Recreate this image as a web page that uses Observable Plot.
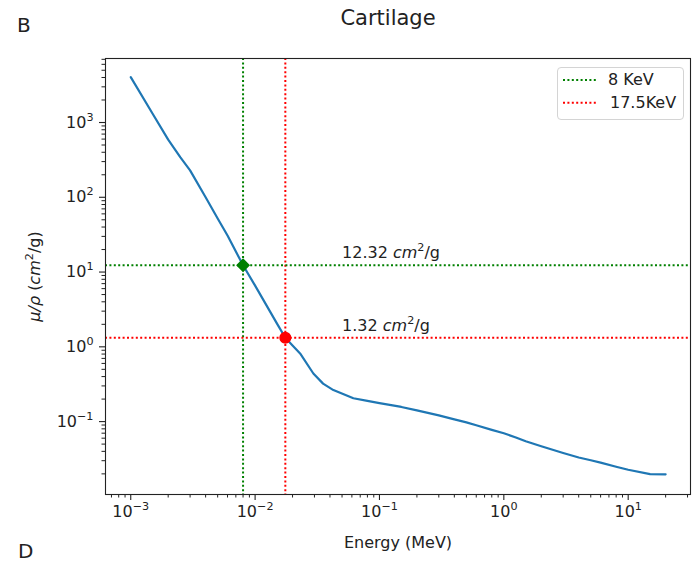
<!DOCTYPE html>
<html><head><meta charset="utf-8">
<script src="https://cdn.jsdelivr.net/npm/d3@7"></script>
<script src="https://cdn.jsdelivr.net/npm/@observablehq/plot@0.6"></script>
<style>
body{margin:0;background:#fff;}
#wrap{position:relative;width:692px;height:562px;overflow:hidden;font-family:"DejaVu Sans",sans-serif;color:#222;}
.abs{position:absolute;white-space:nowrap;line-height:20px;}
#legend{position:absolute;left:557px;top:67px;width:125px;height:51px;border:1px solid #d4d4d4;border-radius:4px;background:rgba(255,255,255,0.85);}
#legend .lab{position:absolute;font-size:16px;line-height:16px;white-space:nowrap;}
</style></head><body><div id="wrap"></div>
<script>
// ---- data ----
const energy = [0.001, 0.0015, 0.002, 0.0025, 0.003, 0.004, 0.005, 0.006, 0.008, 0.01, 0.015, 0.0175, 0.02, 0.023, 0.0294, 0.0352, 0.0426, 0.0617, 0.08, 0.1, 0.15, 0.2, 0.3, 0.4, 0.5, 0.6, 0.8, 1, 1.25, 1.5, 2, 3, 4, 5, 6, 8, 10, 15, 20];
const muRho = [4050, 1310, 590, 344, 229, 100, 52, 30.8, 12.32, 6.58, 2.04, 1.32, 1.04, 0.815, 0.44, 0.322, 0.264, 0.205, 0.189, 0.177, 0.157, 0.141, 0.121, 0.107, 0.0975, 0.0895, 0.0776, 0.0698, 0.0614, 0.0545, 0.0467, 0.0381, 0.0331, 0.0304, 0.0283, 0.0249, 0.0227, 0.0198, 0.0197];
const markerEnergy = [0.008, 0.0175];
const markerMu = [12.32, 1.32];
const markerColor = ["green", "red"];
const markerSymbol = ["diamond2", "circle"];
const legendLabels = ["8 KeV", "17.5KeV"];
const annotationText = ["12.32 cm2/g", "1.32 cm2/g"];
const annotationX = [0.05, 0.05];
const xTicks = [1e-3, 1e-2, 1e-1, 1, 10];
const yTicks = [1e-1, 1, 10, 100, 1000];
const chartTitle = "Cartilage";
const xLabel = "Energy (MeV)";
const yLabel = "μ/ρ (cm2/g)";

// ---- derived tables ----
const curve = energy.map((e, i) => ({e, m: muRho[i]}));
const markers = markerEnergy.map((e, i) => ({e, m: markerMu[i], c: markerColor[i], s: markerSymbol[i], t: annotationText[i], tx: annotationX[i]}));
const xDomain = [10 ** -3.203, 10 ** 1.501];
const yDomain = [10 ** -1.975, 10 ** 3.856];
const minor = (lo, hi, dom) => { const out = []; for (let k = lo; k <= hi; k++) for (let m = 2; m <= 9; m++) { const v = m * 10 ** k; if (v > dom[0] && v < dom[1]) out.push(v); } return out; };
const xMinor = minor(-4, 1, xDomain);
const yMinor = minor(-2, 3, yDomain);
const expFmt = d => "10^" + String(Math.round(Math.log10(d))).replace("-", "−");
const dash = "2,2.4";
const ink = "#222";

const chart = Plot.plot({
  width: 692, height: 562,
  marginLeft: 105, marginRight: 2, marginTop: 58, marginBottom: 68,
  style: {fontFamily: "DejaVu Sans", fontSize: "16px", color: ink, background: "white"},
  x: {type: "log", domain: xDomain},
  y: {type: "log", domain: yDomain},
  marks: [
    Plot.ruleX(markers, {x: "e", stroke: "c", strokeWidth: 2, strokeDasharray: dash}),
    Plot.ruleY(markers, {y: "m", stroke: "c", strokeWidth: 2, strokeDasharray: dash}),
    Plot.line(curve, {x: "e", y: "m", stroke: "#1f77b4", strokeWidth: 2.2}),
    Plot.dot(markers, {x: "e", y: "m", fill: "c", stroke: "c", symbol: "s", r: 5.3}),
    Plot.text(markers, {x: "tx", y: "m", text: "t", textAnchor: "start", dy: -12, fontSize: 16, fill: ink}),
    Plot.axisX(xMinor, {tickSize: 3.5, tickFormat: () => "", label: null, stroke: ink, strokeWidth: 1}),
    Plot.axisY(yMinor, {tickSize: 3.5, tickFormat: () => "", label: null, stroke: ink, strokeWidth: 1}),
    Plot.axisX(xTicks, {tickSize: 6, tickPadding: 5, tickFormat: expFmt, fontSize: 16, stroke: ink, fill: ink, strokeWidth: 1.1,
      label: xLabel, labelAnchor: "center", labelArrow: "none", labelOffset: 53}),
    Plot.axisY(yTicks, {tickSize: 6, tickPadding: 6, tickFormat: expFmt, fontSize: 16, stroke: ink, fill: ink, strokeWidth: 1.1,
      label: yLabel, labelAnchor: "center", labelArrow: "none", labelOffset: 77}),
    Plot.frame({stroke: ink, strokeWidth: 1.1})
  ]
});

// rich text: superscripts and italics
function rich(el, parts) {
  const t = d3.select(el);
  t.text(null);
  let shift = 0;
  parts.forEach(p => {
    const s = t.append("tspan").text(p.t);
    if (p.i) s.attr("font-style", "italic");
    if (p.sup) { s.attr("font-size", "0.7em").attr("dy", "-0.62em"); shift = 0.43; }
    else if (shift) { s.attr("dy", shift + "em"); shift = 0; }
  });
}
d3.select(chart).selectAll("text").each(function() {
  const s = this.textContent;
  let m;
  if ((m = s.match(/^10\^(.+)$/))) rich(this, [{t: "10"}, {t: m[1], sup: true}]);
  else if ((m = s.match(/^([\d.]+) cm2\/g$/))) rich(this, [{t: m[1] + " "}, {t: "cm", i: true}, {t: "2", sup: true}, {t: "/g"}]);
  else if (s === yLabel) rich(this, [{t: "μ/ρ", i: true}, {t: " ("}, {t: "cm", i: true}, {t: "2", sup: true}, {t: "/g)"}]);
});

const wrap = document.getElementById("wrap");
wrap.appendChild(chart);
chart.style.position = "absolute"; chart.style.left = "0"; chart.style.top = "0";

function addText(txt, x, y, size, center) {
  const d = document.createElement("div");
  d.className = "abs"; d.textContent = txt;
  d.style.fontSize = size + "px"; d.style.left = x + "px"; d.style.top = y + "px";
  if (center) d.style.transform = "translateX(-50%)";
  wrap.appendChild(d);
}
addText(chartTitle, 388, 8, 21, true);
addText("B", 17, 15, 20, false);
addText("D", 18, 541, 20, false);

// legend
const lg = document.createElement("div");
lg.id = "legend";
wrap.appendChild(lg);
const lsvg = d3.select(lg).append("svg").attr("width", 125).attr("height", 51).style("position", "absolute").style("left", "0").style("top", "0");
legendLabels.forEach((lab, i) => {
  const yy = 12 + i * 22.7;
  lsvg.append("line").attr("x1", 5).attr("x2", 38).attr("y1", yy).attr("y2", yy)
    .attr("stroke", markerColor[i]).attr("stroke-width", 2).attr("stroke-dasharray", dash);
  const s = document.createElement("div");
  s.className = "lab"; s.textContent = lab;
  s.style.left = (i === 0 ? 50 : 52) + "px"; s.style.top = (yy - 8) + "px";
  lg.appendChild(s);
});
</script></body></html>
